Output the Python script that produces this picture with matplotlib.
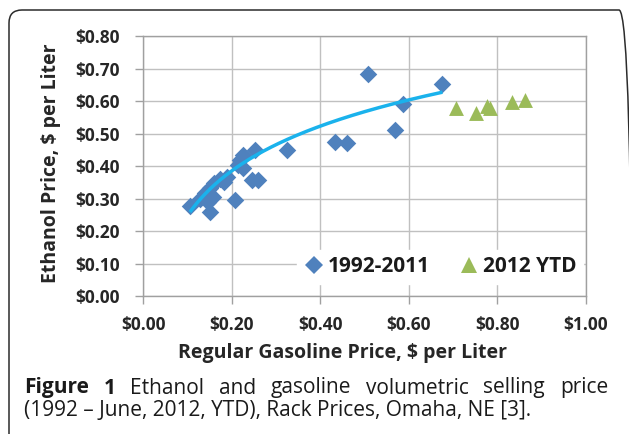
import numpy as np
import matplotlib
matplotlib.use("Agg")
import matplotlib.pyplot as plt
from matplotlib.patches import FancyBboxPatch
from matplotlib.lines import Line2D
from matplotlib.transforms import IdentityTransform

# ---- data ----
gas_9211 = [0.106, 0.129, 0.140, 0.147, 0.152, 0.151, 0.159, 0.160, 0.174, 0.183,
            0.190, 0.208, 0.215, 0.219, 0.226, 0.226, 0.253, 0.245, 0.260, 0.324,
            0.434, 0.461, 0.509, 0.569, 0.586, 0.676]
eth_9211 = [0.276, 0.300, 0.316, 0.290, 0.259, 0.331, 0.306, 0.347, 0.360, 0.350,
            0.366, 0.294, 0.403, 0.418, 0.394, 0.434, 0.450, 0.357, 0.357, 0.448,
            0.474, 0.472, 0.682, 0.511, 0.590, 0.651]
gas_2012 = [0.706, 0.752, 0.777, 0.784, 0.834, 0.862]
eth_2012 = [0.580, 0.563, 0.585, 0.580, 0.598, 0.602]
# logarithmic trendline (as drawn in the source): y = A + B * ln(x)
trend_a = 0.705
trend_b = 0.199
x_ticks = [0.0, 0.2, 0.4, 0.6, 0.8, 1.0]
y_ticks = [0.0, 0.1, 0.2, 0.3, 0.4, 0.5, 0.6, 0.7, 0.8]
labels = ["1992-2011", "2012 YTD"]

W, H = 629, 434
fig = plt.figure(figsize=(W / 100, H / 100), dpi=100)
fig.patch.set_facecolor("white")

ax = fig.add_axes([143 / W, 1 - 296 / H, (586 - 143) / W, (296 - 36) / H])
FONT = "Open Sans"
TXT = "#262626"
blue = "#4f81bd"
green = "#9bbb59"
trend_c = "#1ab2ec"

ax.scatter(gas_9211, eth_9211, marker="D", s=80, color=blue, zorder=3, linewidths=0)
ax.scatter(gas_2012, eth_2012, marker="^", s=115, color=green, zorder=3, linewidths=0)

gx = np.array(gas_9211)
xt = np.linspace(gx.min(), gx.max(), 200)
ax.plot(xt, trend_a + trend_b * np.log(xt), color=trend_c, lw=2.5, zorder=4,
        solid_capstyle="butt")

ax.set_xlim(0, 1.0)
ax.set_ylim(0, 0.8)
ax.set_xticks(x_ticks)
ax.set_yticks(y_ticks)
ax.set_xticklabels([f"${v:.2f}" for v in x_ticks])
ax.set_yticklabels([f"${v:.2f}" for v in y_ticks])
ax.grid(True, color="#c0c0c0", lw=1.0, zorder=0)
ax.set_axisbelow(True)
for s in ax.spines.values():
    s.set_color("#a0a0a0")
    s.set_linewidth(1.0)
ax.tick_params(direction="out", length=5.5, width=1.0, color="#a0a0a0")
ax.tick_params(axis="y", pad=11)
ax.tick_params(axis="x", pad=9)
for lab in ax.get_xticklabels() + ax.get_yticklabels():
    lab.set_fontfamily(FONT)
    lab.set_fontweight("bold")
    lab.set_fontsize(12.5)
    lab.set_color(TXT)

ax.set_xlabel("Regular Gasoline Price, $ per Liter", fontfamily=FONT, fontweight="bold",
              fontsize=14, color=TXT)
ax.set_ylabel("Ethanol Price, $ per Liter", fontfamily=FONT, fontweight="bold",
              fontsize=14, color=TXT)
ax.xaxis.set_label_coords((343 - 143) / 443, (296 - 343) / 260)
ax.yaxis.set_label_coords((61 - 143) / 443, (296 - 163) / 260)

handles = [Line2D([], [], marker="D", ls="none", color=blue, markersize=9, markeredgewidth=0),
           Line2D([], [], marker="^", ls="none", color=green, markersize=11, markeredgewidth=0)]
leg = ax.legend(handles, labels, ncol=2, loc="center", bbox_to_anchor=((440 - 143) / 443, (296 - 267) / 260),
                frameon=True, facecolor="white", edgecolor="white", framealpha=1,
                prop={"family": FONT, "weight": "bold", "size": 15},
                handletextpad=0.15, columnspacing=1.4, handlelength=1.0,
                borderpad=0.3, fancybox=False)
leg.set_zorder(5)
for t in leg.get_texts():
    t.set_color("#1a1a1a")

# outer rounded border
border = FancyBboxPatch((9, -40), 632 - 9, (H - 10) + 40, boxstyle="round,pad=0,rounding_size=13",
                        transform=IdentityTransform(), facecolor="none", edgecolor="#2b2b2b",
                        lw=1.1, clip_on=False)
fig.patches.append(border)

# caption (line 1 justified)
fig.canvas.draw()
r = fig.canvas.get_renderer()
line1 = [("Figure", "bold"), ("1", "bold"), ("Ethanol", "normal"), ("and", "normal"),
         ("gasoline", "normal"), ("volumetric", "normal"), ("selling", "normal"), ("price", "normal")]
cap_fs = 15
x0, x1 = 24, 608
y1 = H - 388
objs = []
widths = []
for w, wt in line1:
    t = fig.text(0, 0, w, fontfamily=FONT, fontweight=wt, fontsize=cap_fs, color="#1a1a1a",
                 transform=IdentityTransform(), va="center", ha="left")
    widths.append(t.get_window_extent(r).width)
    objs.append(t)
gap = (x1 - x0 - sum(widths)) / (len(objs) - 1)
xx = x0
for t, wd in zip(objs, widths):
    t.set_position((xx, y1))
    xx += wd + gap
fig.text(x0, H - 411, "(1992 \u2013 June, 2012, YTD), Rack Prices, Omaha, NE [3].",
         fontfamily=FONT, fontsize=cap_fs, color="#1a1a1a", transform=IdentityTransform(),
         va="center", ha="left")

fig.savefig("out.png", dpi=100)
